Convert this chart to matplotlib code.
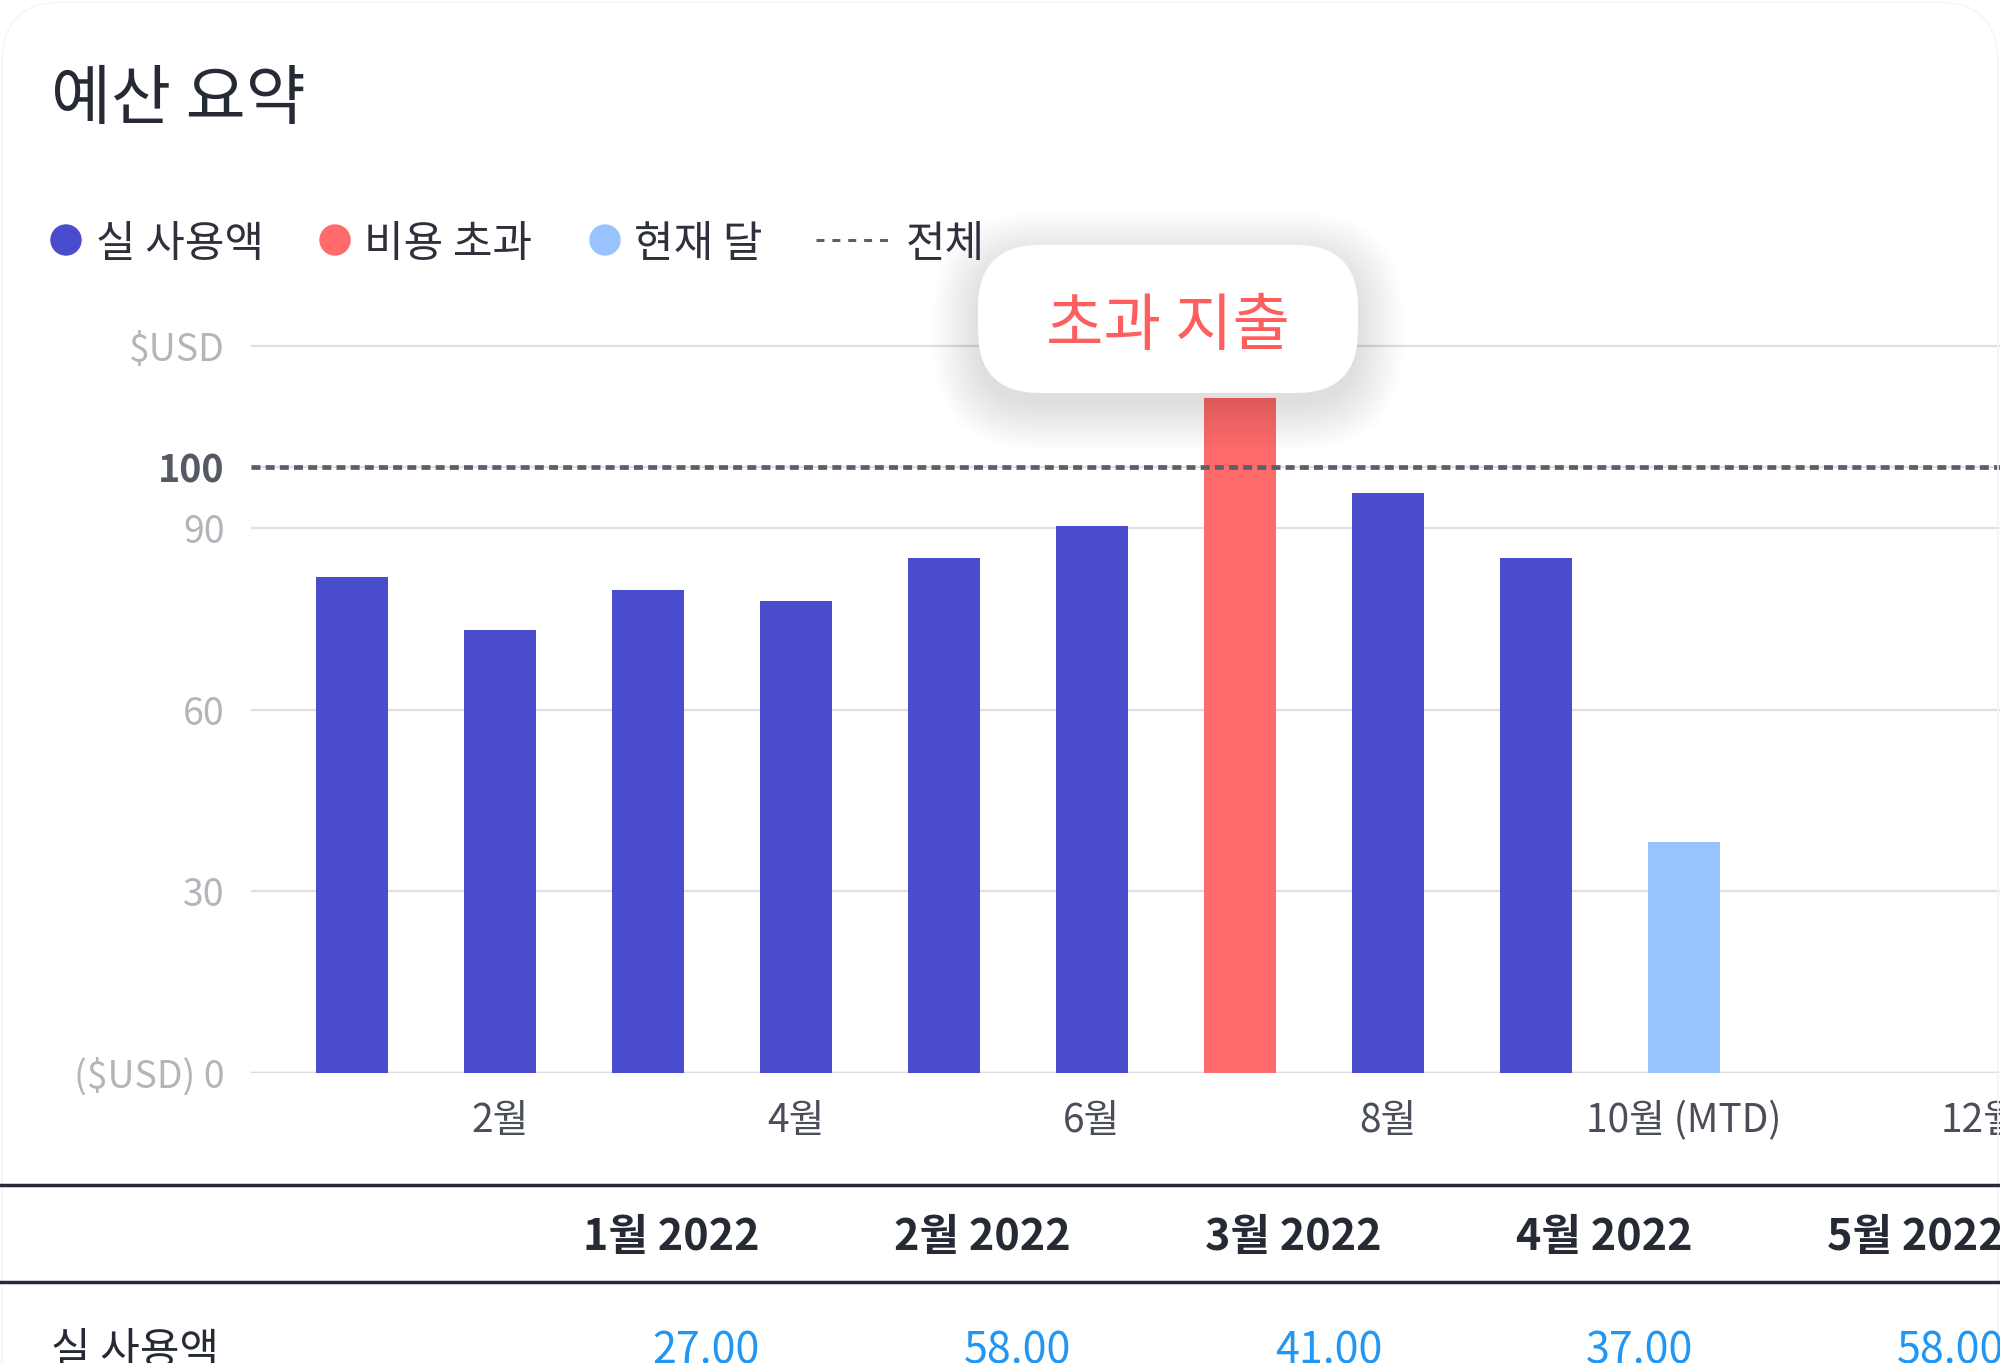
import matplotlib.pyplot as plt
from matplotlib.patches import FancyBboxPatch, Circle

plt.rcParams['font.family'] = ['Noto Sans CJK KR', 'DejaVu Sans']

# data
months = [1, 2, 3, 4, 5, 6, 7, 8, 9, 10]
spend = [81.9, 73.1, 79.8, 77.9, 85.1, 90.3, 111.4, 95.8, 85.1, 38.1]
kinds = ['actual', 'actual', 'actual', 'actual', 'actual', 'actual', 'over', 'actual', 'actual', 'current']
budget = 100
ytick_vals = [0, 30, 60, 90, 100, 120]
ytick_labels = ['($USD) 0', '30', '60', '90', '100', '$USD']
xtick_vals = [2, 4, 6, 8, 10, 12]
xtick_labels = ['2월', '4월', '6월', '8월', '10월 (MTD)', '12월']
legend_labels = ['실 사용액', '비용 초과', '현재 달', '전체']
callout_text = '초과 지출'
table_cols = ['1월 2022', '2월 2022', '3월 2022', '4월 2022', '5월 2022']
table_row_label = '실 사용액'
table_vals = [27.00, 58.00, 41.00, 37.00, 58.00]

colors = {'actual': '#484CCD', 'over': '#FF6B6B', 'current': '#99C3FF'}
DARK = '#262a35'
W, H = 2000, 1363

fig = plt.figure(figsize=(W / 100, H / 100), dpi=100)
fig.patch.set_facecolor('white')

# chart area: y=0 at 1073px, 6.058 px per unit
ax = fig.add_axes([251 / W, (H - 1073) / H, 1 - 251 / W, 739 / H])
ax.bar(months, spend, width=0.49, color=[colors[k] for k in kinds], zorder=3)
ax.axhline(budget, color='#5a5f6b', lw=3.4, ls=(0, (1.9, 1.1)), zorder=4)
ax.set_xlim(0.318, 12.135)
ax.set_ylim(0, 122)
ax.set_yticks(ytick_vals)
ax.set_yticklabels(ytick_labels)
ax.set_xticks(xtick_vals)
ax.set_xticklabels(xtick_labels)
ax.tick_params(axis='y', length=0, pad=19, labelsize=27, labelcolor='#b3b5ba')
ax.tick_params(axis='x', length=0, pad=20, labelsize=28, labelcolor='#4a4e59')
for lab in ax.get_yticklabels():
    if lab.get_text() == '100':
        lab.set_fontweight('bold')
        lab.set_color('#555963')
ax.grid(axis='y', color='#e0e0e3', lw=1.6, zorder=0)
ax.set_axisbelow(True)
for s in ax.spines.values():
    s.set_visible(False)
ax.axhline(0, color='#dcdcdf', lw=2.5, zorder=2)

# overlay in pixel coords
ov = fig.add_axes([0, 0, 1, 1], zorder=5)
ov.set_xlim(0, W)
ov.set_ylim(H, 0)
ov.axis('off')

ov.add_patch(FancyBboxPatch((2, 2), W - 4, H + 200, boxstyle='round,pad=0,rounding_size=60',
                            fc='none', ec='#f5f5f6', lw=1.2))

ov.text(51, 101, '예산 요약', fontsize=47, color=DARK, va='center', ha='left')

# legend
leg_y = 240
for cx, tx, lab, key in [(66, 96, legend_labels[0], 'actual'),
                         (335, 364, legend_labels[1], 'over'),
                         (605, 634, legend_labels[2], 'current')]:
    ov.add_patch(Circle((cx, leg_y), 15, color=colors[key]))
    ov.text(tx, leg_y + 5, lab, fontsize=31, color='#2e313b', va='center', ha='left', fontweight='medium')
ov.plot([816, 893], [leg_y, leg_y], color='#5a5f6b', lw=2.2, ls=(0, (2.6, 2.6)))
ov.text(906, leg_y + 5, legend_labels[3], fontsize=31, color='#2e313b', va='center', ha='left', fontweight='medium')

# callout with soft shadow
bx, by, bw, bh = 978, 245, 380, 148
for k in range(16):
    e = 3 * k
    ov.add_patch(FancyBboxPatch((bx - e, by + 12 - e), bw + 2 * e, bh + 2 * e,
                                boxstyle='round,pad=0,rounding_size=%d' % (62 + e),
                                fc='black', ec='none', alpha=0.009))
ov.add_patch(FancyBboxPatch((bx, by), bw, bh, boxstyle='round,pad=0,rounding_size=62',
                            fc='white', ec='none'))
ov.text(bx + bw / 2, 327, callout_text, fontsize=45, color='#FF5E5E', ha='center', va='center')

# table
ov.plot([0, W], [1185, 1185], color=DARK, lw=2.5)
ov.plot([0, W], [1282, 1282], color=DARK, lw=2.5)
for i, (col, v) in enumerate(zip(table_cols, table_vals)):
    x = 760 + 311 * i
    ov.text(x, 1237, col, fontsize=31, fontweight='bold', color=DARK, ha='right', va='center')
    ov.text(x, 1352, '%.2f' % v, fontsize=31, color='#2196F3', ha='right', va='center')
ov.text(51, 1352, table_row_label, fontsize=31, color=DARK, ha='left', va='center')

fig.savefig('out.png', dpi=100)
